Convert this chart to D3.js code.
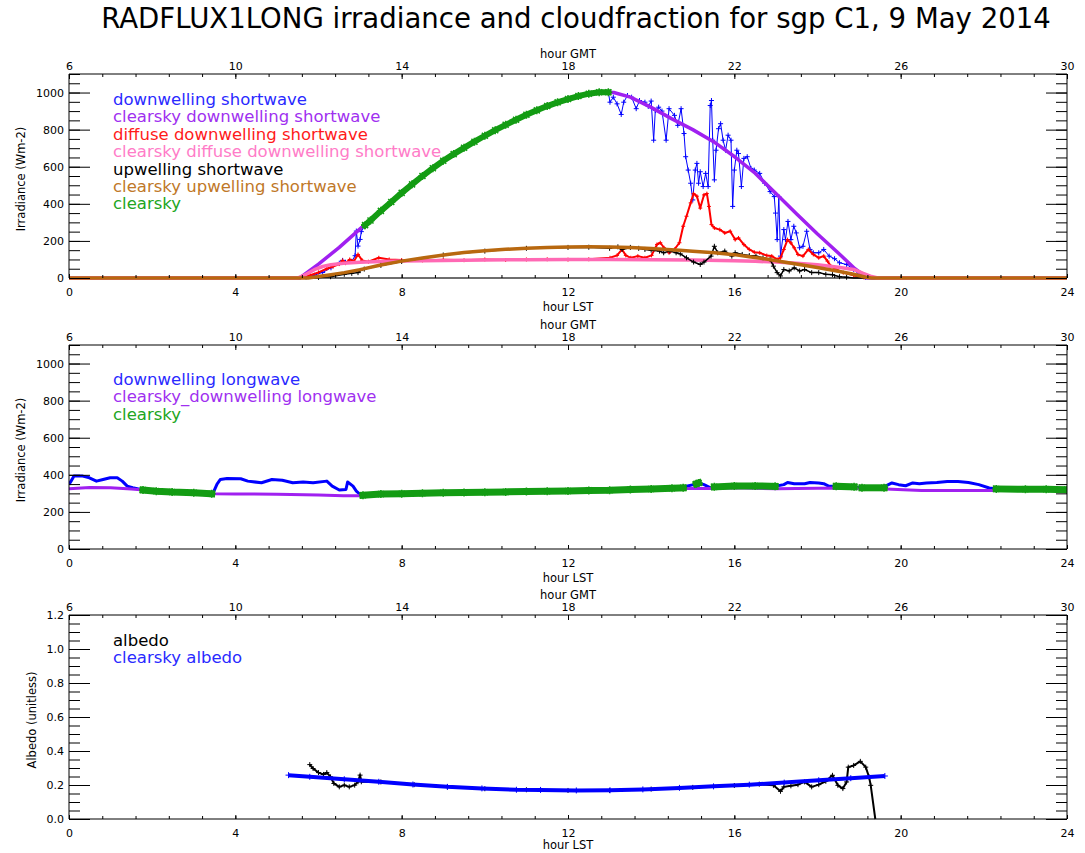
<!DOCTYPE html>
<html><head><meta charset="utf-8">
<script src="https://cdn.jsdelivr.net/npm/d3@7/dist/d3.min.js"></script>
<style>
body{margin:0;background:#fff}
svg{display:block}
text{font-family:"DejaVu Sans",sans-serif}
</style>
</head><body>
<svg id="c" width="1085" height="853"></svg>
<script>
// ---------------- DATA (hour LST, value) ----------------
const titleText = "RADFLUX1LONG irradiance and cloudfraction for sgp C1, 9 May 2014";
const lstTicks = [0,4,8,12,16,20,24];
const gmtTicks = [6,10,14,18,22,26,30];
const irrTicks = [0,200,400,600,800,1000];
const albTicks = [0,0.2,0.4,0.6,0.8,1.0,1.2];

const swDown = [[0,0],[5.5,0],[5.7,5],[5.9,15],[6.1,30],[6.3,55],[6.5,80],[6.58,95],[6.65,85],[6.8,90],[6.88,120],[6.91,253],[6.95,172],[7.0,208],[7.03,250],[7.12,285],[7.25,310],[7.5,362],[7.75,410],[8.0,459],[8.25,505],[8.5,550],[8.75,592],[9.0,632],[9.25,668],[9.5,702],[9.75,735],[10.0,767],[10.25,797],[10.5,826],[10.75,853],[11.0,880],[11.25,904],[11.5,927],[11.75,947],[12.0,965],[12.25,981],[12.5,994],[12.75,1002],[12.97,1002],[13.01,948],[13.09,975],[13.18,939],[13.28,882],[13.34,948],[13.43,984],[13.53,975],[13.64,913],[13.72,957],[13.85,948],[13.93,925],[14.0,954],[14.06,743],[14.1,904],[14.18,921],[14.26,900],[14.36,743],[14.43,913],[14.56,877],[14.64,823],[14.72,913],[14.79,779],[14.83,654],[14.89,582],[14.95,511],[15.0,421],[15.06,582],[15.1,618],[15.14,511],[15.18,573],[15.25,493],[15.31,564],[15.37,493],[15.42,930],[15.45,957],[15.48,743],[15.52,529],[15.56,689],[15.62,805],[15.67,832],[15.73,743],[15.79,689],[15.85,770],[15.92,743],[15.96,386],[16.0,582],[16.06,689],[16.1,671],[16.17,493],[16.23,645],[16.31,654],[16.4,591],[16.48,582],[16.61,564],[16.73,511],[16.86,466],[16.96,439],[16.99,350],[17.03,207],[17.07,439],[17.11,118],[17.19,261],[17.23,207],[17.29,305],[17.36,207],[17.43,279],[17.49,243],[17.57,163],[17.65,171],[17.74,252],[17.82,154],[17.9,136],[18.03,136],[18.15,154],[18.28,118],[18.41,104],[18.53,82],[18.7,73],[18.87,46],[19.03,11],[19.16,2],[19.3,0],[24,0]];
const swClearDown = [[0,0],[5.55,0],[6.0,75],[6.5,165],[7.0,265],[7.5,362],[8.0,459],[8.5,550],[9.0,632],[9.5,702],[10.0,767],[10.5,826],[11.0,880],[11.5,927],[12.0,965],[12.5,994],[12.8,1003],[13.1,1000],[13.5,975],[14.0,920],[14.5,858],[15.0,800],[15.5,735],[16.0,655],[16.5,565],[17.0,455],[17.5,345],[18.0,237],[18.5,135],[18.9,50],[19.2,0],[24,0]];
const swDiffuse = [[0,0],[5.55,0],[5.8,15],[6.0,30],[6.2,50],[6.35,62],[6.5,75],[6.58,95],[6.65,80],[6.75,100],[6.85,90],[6.95,127],[7.05,95],[7.2,88],[7.45,109],[7.7,100],[8.0,97],[8.5,95],[9.0,98],[9.5,96],[10.0,100],[10.5,97],[11.0,100],[11.5,101],[12.0,99],[12.5,101],[13.01,109],[13.18,122],[13.3,154],[13.39,122],[13.51,109],[13.68,118],[13.85,109],[14.01,122],[14.14,181],[14.22,190],[14.31,163],[14.43,136],[14.56,154],[14.68,190],[14.77,279],[14.85,333],[14.95,405],[15.02,455],[15.1,441],[15.18,377],[15.27,448],[15.34,455],[15.39,386],[15.45,288],[15.52,270],[15.65,261],[15.77,243],[15.9,252],[16.02,207],[16.1,216],[16.23,180],[16.36,154],[16.48,139],[16.61,136],[16.78,121],[16.9,118],[17.03,100],[17.11,109],[17.19,154],[17.28,207],[17.36,189],[17.44,163],[17.53,127],[17.65,118],[17.78,154],[17.9,127],[18.03,109],[18.15,118],[18.24,91],[18.32,64],[18.45,46],[18.62,29],[18.87,14],[19.12,2],[19.3,0],[24,0]];
const swClearDiffuse = [[0,0],[5.5,0],[5.7,20],[5.9,45],[6.1,62],[6.3,72],[6.6,80],[7.0,85],[7.5,89],[8.0,92],[9.0,95],[10.0,97],[11.0,99],[12.0,100],[13.0,100],[14.0,99],[15.0,97],[16.0,93],[16.5,90],[17.0,86],[17.5,80],[18.0,72],[18.5,58],[18.87,46],[19.1,25],[19.3,8],[19.45,0],[24,0]];
const swUp = [[0,0],[5.8,0],[6.0,3],[6.29,7],[6.62,20],[6.8,25],[6.95,29],[7.0,40],[7.1,48],[7.5,68],[8.0,89],[9.0,124],[10.0,145],[11.0,160],[12.0,165],[12.5,166],[13.0,160],[13.2,168],[13.3,154],[13.5,165],[13.7,160],[13.85,154],[14.0,150],[14.2,145],[14.3,136],[14.45,145],[14.6,136],[14.7,130],[14.85,109],[15.02,86],[15.18,73],[15.27,86],[15.44,118],[15.52,171],[15.6,136],[15.77,145],[15.94,118],[16.02,136],[16.19,127],[16.36,121],[16.52,118],[16.69,109],[16.86,100],[16.94,64],[17.03,29],[17.11,11],[17.19,46],[17.32,38],[17.44,55],[17.57,38],[17.69,46],[17.86,29],[18.03,29],[18.2,20],[18.36,18],[18.53,7],[18.7,4],[18.87,0],[24,0]];
const swClearUp = [[0,0],[5.75,0],[6.0,8],[6.3,18],[6.62,29],[7.0,45],[7.5,70],[8.0,91],[8.5,108],[9.1,127],[9.5,137],[10.0,147],[10.5,155],[11.0,161],[11.5,165],[12.0,167],[12.5,168],[13.0,167],[13.5,164],[14.0,159],[14.68,150],[15.0,144],[15.52,136],[16.0,126],[16.36,115],[16.8,101],[17.19,86],[17.6,71],[18.03,55],[18.5,36],[18.87,20],[19.16,4],[19.3,0],[24,0]];
const swClearStart = [7.1];
const swClearEnd = [12.98];

const lwDown = [[0,348],[0.06,370],[0.12,393],[0.33,393],[0.49,384],[0.66,366],[0.82,375],[0.99,384],[1.16,384],[1.28,366],[1.4,339],[1.53,330],[1.78,318],[2.1,312],[2.48,307],[3.0,303],[3.43,298],[3.47,304],[3.56,350],[3.64,375],[3.8,380],[4.13,379],[4.3,366],[4.63,357],[4.88,375],[5.13,371],[5.38,357],[5.63,361],[5.87,357],[6.2,366],[6.33,339],[6.5,318],[6.66,321],[6.7,361],[6.83,339],[6.91,312],[7.0,295],[7.07,290],[7.5,296],[8.0,298],[8.5,301],[9.0,303],[9.5,304],[10.0,306],[10.5,308],[11.0,310],[11.5,311],[12.0,313],[12.5,316],[13.0,317],[13.5,321],[14.0,324],[14.5,328],[14.77,330],[14.85,338],[15.02,347],[15.09,352],[15.14,356],[15.27,347],[15.44,329],[15.52,335],[16.0,340],[16.5,340],[16.98,338],[17.19,347],[17.28,359],[17.44,352],[17.69,352],[17.82,359],[18.03,356],[18.15,352],[18.28,338],[18.45,338],[18.88,335],[19.07,330],[19.6,330],[19.62,338],[19.79,356],[19.95,347],[20.12,341],[20.29,356],[20.45,352],[20.62,356],[20.87,359],[21.12,364],[21.38,364],[21.63,359],[21.88,347],[22.13,329],[22.3,324],[23.0,322],[23.5,322],[24,320]];
const lwClearDown = [[0,325],[0.5,332],[1.0,330],[1.5,323],[1.8,318],[2.5,308],[3.0,303],[3.5,298],[4.0,297],[5.0,295],[6.0,291],[6.6,287],[7.1,287],[8.0,296],[9.0,300],[10.0,304],[11.0,308],[12.0,313],[13.0,316],[14.0,322],[14.8,326],[15.5,326],[16.0,330],[17.0,325],[18.0,328],[18.9,329],[19.5,325],[20.5,316],[21.5,316],[22.2,316],[23.0,320],[24,320]];
const lwClearStart = [1.78,7.07,15.09,15.52,18.45,19.07,22.3];
const lwClearEnd   = [3.43,14.77,15.14,16.98,18.88,19.6,24];

const albedo = [[5.79,0.32],[5.87,0.297],[6.0,0.273],[6.12,0.262],[6.2,0.273],[6.29,0.248],[6.37,0.209],[6.5,0.189],[6.62,0.199],[6.74,0.189],[6.87,0.199],[6.95,0.219],[7.0,0.258],[7.03,0.219],[7.5,0.218],[8.3,0.202],[9.1,0.188],[10.0,0.178],[11.0,0.172],[12.0,0.168],[13.0,0.168],[14.0,0.176],[15.0,0.186],[16.0,0.197],[16.6,0.205],[16.94,0.198],[17.11,0.163],[17.19,0.189],[17.36,0.195],[17.53,0.202],[17.69,0.218],[17.86,0.189],[18.03,0.202],[18.2,0.222],[18.36,0.257],[18.49,0.198],[18.61,0.179],[18.7,0.218],[18.74,0.305],[18.87,0.315],[19.03,0.339],[19.16,0.305],[19.24,0.247],[19.28,0.198],[19.39,0.0]];
const clearAlbedo = [[5.28,0.258],[5.79,0.248],[6.62,0.234],[7.45,0.219],[8.27,0.203],[9.1,0.189],[9.93,0.18],[10.76,0.172],[11.34,0.171],[12.2,0.168],[13.01,0.169],[13.8,0.174],[14.68,0.183],[15.5,0.192],[16.36,0.202],[17.2,0.214],[18.03,0.228],[18.8,0.24],[19.62,0.253]];

// ---------------- STYLE ----------------
const C = {blue:"#0000ff", purple:"#a020f0", red:"#ff0000", pink:"#ff69b4", black:"#000000", brown:"#b8680f", green:"#139c13"};
const X0 = 69, X1 = 1067;
const svg = d3.select("#c");
const x = d3.scaleLinear().domain([0,24]).range([X0,X1]);
const xg = d3.scaleLinear().domain([6,30]).range([X0,X1]);

// Title
const tt = svg.append("text").attr("x",576).attr("y",28).attr("text-anchor","middle")
  .attr("font-size",24).attr("fill","#000").text(titleText);
const tl = tt.node().getComputedTextLength();
tt.attr("font-size", 24*950/tl);

function inIntervals(t, s, e){ for(let i=0;i<s.length;i++){ if(t>=s[i]-1e-9 && t<=e[i]+1e-9) return i; } return -1; }

function panel(cfg){
  const y = d3.scaleLinear().domain([0,cfg.ymax]).range([cfg.bot,cfg.top]);
  const g = svg.append("g");
  const id = "clip"+cfg.top;
  svg.append("clipPath").attr("id",id).append("rect")
    .attr("x",X0).attr("y",cfg.top-2).attr("width",X1-X0).attr("height",cfg.bot-cfg.top+4);

  g.append("line").attr("x1",X0).attr("x2",X1).attr("y1",cfg.bot).attr("y2",cfg.bot)
    .attr("stroke",cfg.bottomColor||"#000").attr("stroke-width",cfg.bottomW||1);

  const dg = g.append("g").attr("clip-path",`url(#${id})`);
  const ln = d3.line().x(d=>x(d[0])).y(d=>y(d[1]));
  cfg.series.forEach(s=>{
    if(s.band){
      const groups = s.start.map(()=>[]);
      s.data.forEach(d=>{ const k=inIntervals(d[0],s.start,s.end); if(k>=0) groups[k].push(d); });
      groups.forEach(pts=>{
        if(pts.length<1) return;
        dg.append("path").datum(pts).attr("d",ln).attr("fill","none").attr("stroke",s.color)
          .attr("stroke-width",s.width).attr("stroke-linecap","square");
        dg.selectAll(null).data(pts).join("path")
          .attr("transform",d=>`translate(${x(d[0])},${y(d[1])})`)
          .attr("d","M-4,0H4M0,-4V4M-3,-3L3,3M-3,3L3,-3")
          .attr("stroke",s.color).attr("stroke-width",1.5);
      });
      return;
    }
    dg.append("path").datum(s.data).attr("d",ln).attr("fill","none").attr("stroke",s.color)
      .attr("stroke-width",s.width).attr("stroke-linejoin","round");
    if(s.marker){
      dg.selectAll(null).data(s.data.filter(d=>d[1]!==0)).join("path")
        .attr("transform",d=>`translate(${x(d[0])},${y(d[1])})`)
        .attr("d",`M-${s.marker},0H${s.marker}M0,-${s.marker}V${s.marker}`)
        .attr("stroke",s.color).attr("stroke-width",1);
    }
  });

  g.append("path").attr("d",`M${X0},${cfg.bot}V${cfg.top}H${X1}V${cfg.bot}`)
    .attr("fill","none").attr("stroke","#000").attr("stroke-width",1);

  const minorY = d3.range(0, cfg.ymax+1e-9, cfg.minorStep);
  const ax = (a)=>{ a.select(".domain").remove(); a.selectAll("text").attr("font-family","DejaVu Sans"); return a; };
  ax(g.append("g").attr("transform",`translate(${X0},0)`)
    .call(d3.axisLeft(y).tickValues(minorY).tickSizeInner(-11).tickSizeOuter(0).tickFormat("")));
  ax(g.append("g").attr("transform",`translate(${X0},0)`)
    .call(d3.axisLeft(y).tickValues(cfg.yticks).tickSizeInner(-21).tickSizeOuter(0).tickPadding(5).tickFormat(cfg.fmt)))
    .selectAll("text").attr("font-size",11).attr("fill","#000");
  ax(g.append("g").attr("transform",`translate(${X1},0)`)
    .call(d3.axisRight(y).tickValues(minorY).tickSizeInner(-11).tickSizeOuter(0).tickFormat("")));
  ax(g.append("g").attr("transform",`translate(${X1},0)`)
    .call(d3.axisRight(y).tickValues(cfg.yticks).tickSizeInner(-21).tickSizeOuter(0).tickFormat("")));
  ax(g.append("g").attr("transform",`translate(0,${cfg.bot})`)
    .call(d3.axisBottom(x).tickValues(d3.range(0,24.01,0.8)).tickSizeInner(-3).tickSizeOuter(0).tickFormat("")));
  ax(g.append("g").attr("transform",`translate(0,${cfg.bot})`)
    .call(d3.axisBottom(x).tickValues(lstTicks).tickSizeInner(-4).tickSizeOuter(0).tickPadding(10)))
    .selectAll("text").attr("font-size",11).attr("fill","#000");
  ax(g.append("g").attr("transform",`translate(0,${cfg.top})`)
    .call(d3.axisTop(xg).tickValues(d3.range(6,30.01,0.8)).tickSizeInner(-3).tickSizeOuter(0).tickFormat("")));
  ax(g.append("g").attr("transform",`translate(0,${cfg.top})`)
    .call(d3.axisTop(xg).tickValues(gmtTicks).tickSizeInner(-5).tickSizeOuter(0).tickPadding(4)))
    .selectAll("text").attr("font-size",11).attr("fill","#000");

  g.append("text").attr("x",(X0+X1)/2).attr("y",cfg.top-16).attr("text-anchor","middle")
    .attr("font-size",11.5).text("hour GMT");
  g.append("text").attr("x",(X0+X1)/2).attr("y",cfg.bot+(cfg.lstDy||33)).attr("text-anchor","middle")
    .attr("font-size",11.5).text("hour LST");
  g.append("text").attr("transform",`translate(${cfg.ylabX},${(cfg.top+cfg.bot)/2+3}) rotate(-90)`)
    .attr("text-anchor","middle").attr("font-size",11.5).text(cfg.ylabel);

  cfg.legend.forEach((l,i)=>{
    g.append("text").attr("x",113).attr("y",cfg.legY + i*17.4).attr("font-size",16.5)
      .attr("fill",l[1]).text(l[0]);
  });
}

panel({top:74, bot:278, ymax:1100, yticks:irrTicks, minorStep:50, fmt:d3.format("d"),
  ylabel:"Irradiance (Wm-2)", ylabX:25, legY:105, bottomColor:"#6e6e6e", bottomW:2,
  series:[
    {data:swDown, color:C.blue, width:1, marker:2.5},
    {data:swClearDown, color:C.purple, width:3.5},
    {data:swDiffuse, color:C.red, width:2, marker:2},
    {data:swClearDiffuse, color:C.pink, width:3.5},
    {data:swUp, color:C.black, width:1.5, marker:2.5},
    {data:swClearUp, color:C.brown, width:3.5},
    {data:swDown, color:C.green, width:6, band:true, start:swClearStart, end:swClearEnd}
  ],
  legend:[["downwelling shortwave","#2a2aff"],["clearsky downwelling shortwave","#a030f0"],
    ["diffuse downwelling shortwave","#ff1a1a"],["clearsky diffuse downwelling shortwave","#ff7cc8"],
    ["upwelling shortwave","#000"],["clearsky upwelling shortwave","#c07828"],["clearsky","#22a522"]]
});

panel({top:345, bot:549, ymax:1100, yticks:irrTicks, minorStep:50, fmt:d3.format("d"),
  ylabel:"Irradiance (Wm-2)", ylabX:25, legY:385,
  series:[
    {data:lwDown, color:C.blue, width:3},
    {data:lwClearDown, color:C.purple, width:3},
    {data:lwDown, color:C.green, width:7, band:true, start:lwClearStart, end:lwClearEnd}
  ],
  legend:[["downwelling longwave","#2a2aff"],["clearsky_downwelling longwave","#a030f0"],["clearsky","#22a522"]]
});

panel({top:615, bot:819, ymax:1.2, yticks:albTicks, minorStep:0.05, fmt:d3.format(".1f"),
  ylabel:"Albedo (unitless)", ylabX:36, legY:646, lstDy:30,
  series:[
    {data:albedo, color:C.black, width:2, marker:2.5},
    {data:clearAlbedo, color:C.blue, width:4, marker:3}
  ],
  legend:[["albedo","#000"],["clearsky albedo","#2a2aff"]]
});
</script>
</body></html>
